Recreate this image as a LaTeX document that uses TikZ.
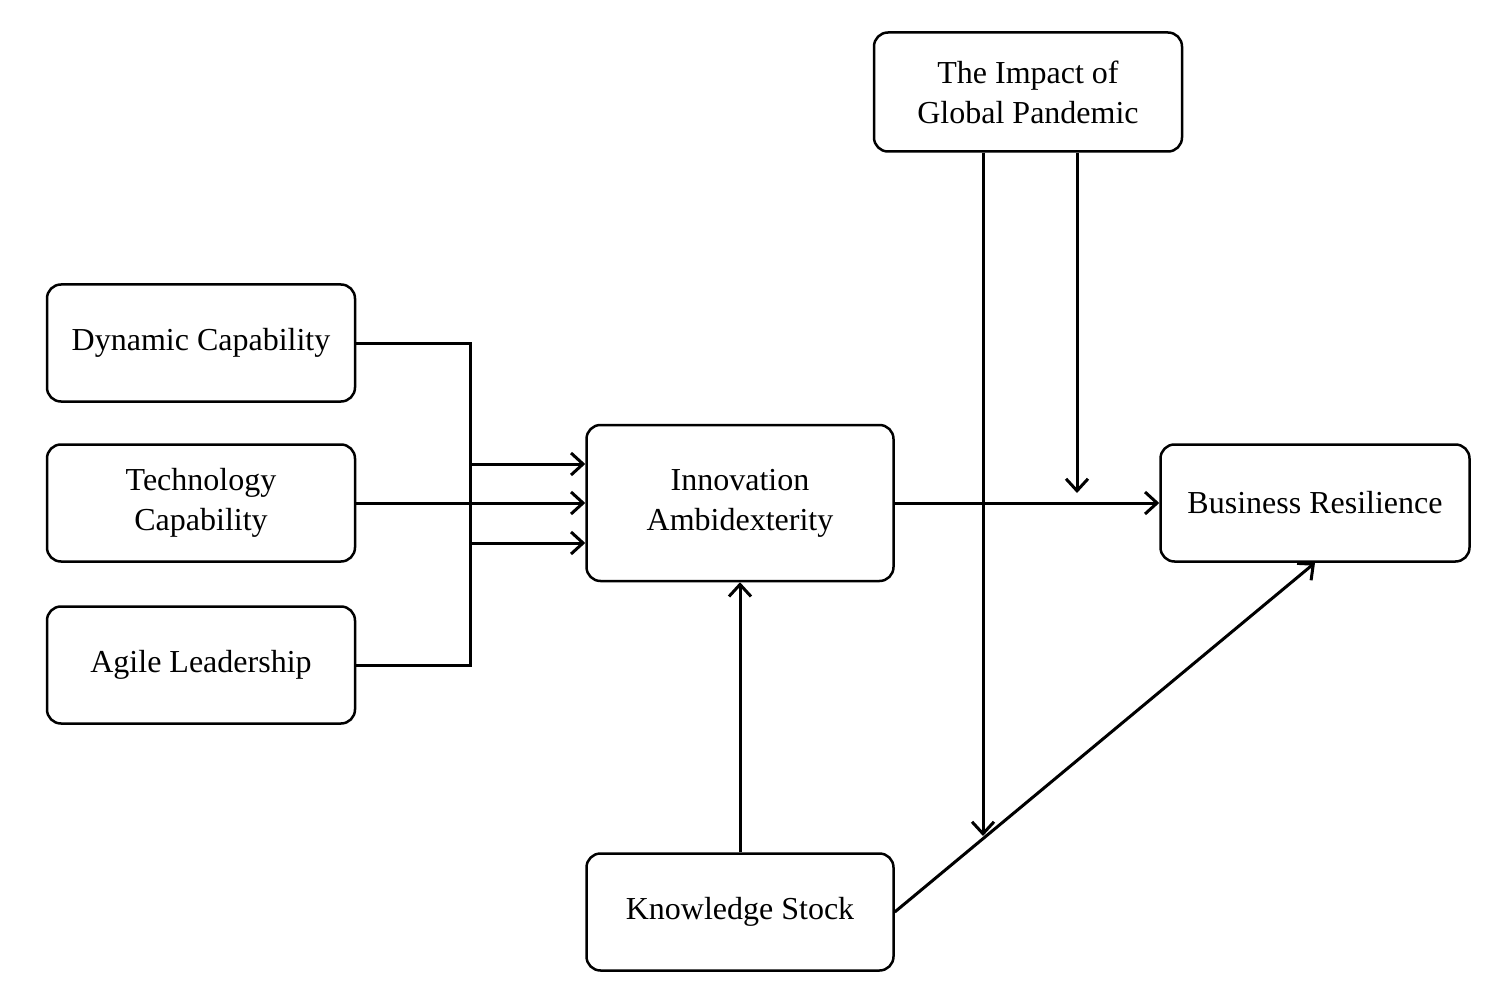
\documentclass[tikz,border=0pt]{standalone}
\usepackage{fontspec}
\setmainfont{Liberation Serif}
\usetikzlibrary{arrows.meta}
\begin{document}
\begin{tikzpicture}[x=1pt,y=-1pt,
  box/.style={draw,line width=2.5pt,rounded corners=14pt,minimum width=308pt,align=center,font=\fontsize{32}{40}\selectfont,inner sep=0pt},
  arr/.style={line width=3pt,-{Straight Barb[length=12pt,width=22pt,line width=3pt]}}]
\useasboundingbox (0,0) rectangle (1500,1003);
\node[box,minimum height=117pt] (dc) at (201,343) {Dynamic Capability};
\node[box,minimum height=117pt] (tc) at (201,503) {Technology\\Capability};
\node[box,minimum height=117pt] (al) at (201,665) {Agile Leadership};
\node[box,minimum width=307pt,minimum height=156pt] (ia) at (740,503) {Innovation\\Ambidexterity};
\node[box,minimum width=309pt,minimum height=117pt] (br) at (1315,503) {Business Resilience};
\node[box,minimum width=307pt,minimum height=117pt] (ks) at (740,912) {Knowledge Stock};
\node[box,minimum width=308pt,minimum height=119pt] (ip) at (1028,92) {The Impact of\\Global Pandemic};
\coordinate (m1) at (983,836);
\coordinate (m2) at (1077,493);
\draw[arr] (dc.east) -- (470,343) |- ([yshift=-40pt]ia.west);
\draw[arr] (tc.east) -- (ia.west);
\draw[arr] (al.east) -- (470,665) |- ([yshift=39pt]ia.west);
\draw[arr] (ia.east) -- (br.west);
\draw[arr] (ks.north) -- (ia.south);
\draw[arr] (ks.east) -- (br.south);
\draw[arr] (ip.south -| m1) -- (m1);
\draw[arr] (ip.south -| m2) -- (m2);
\end{tikzpicture}
\end{document}
